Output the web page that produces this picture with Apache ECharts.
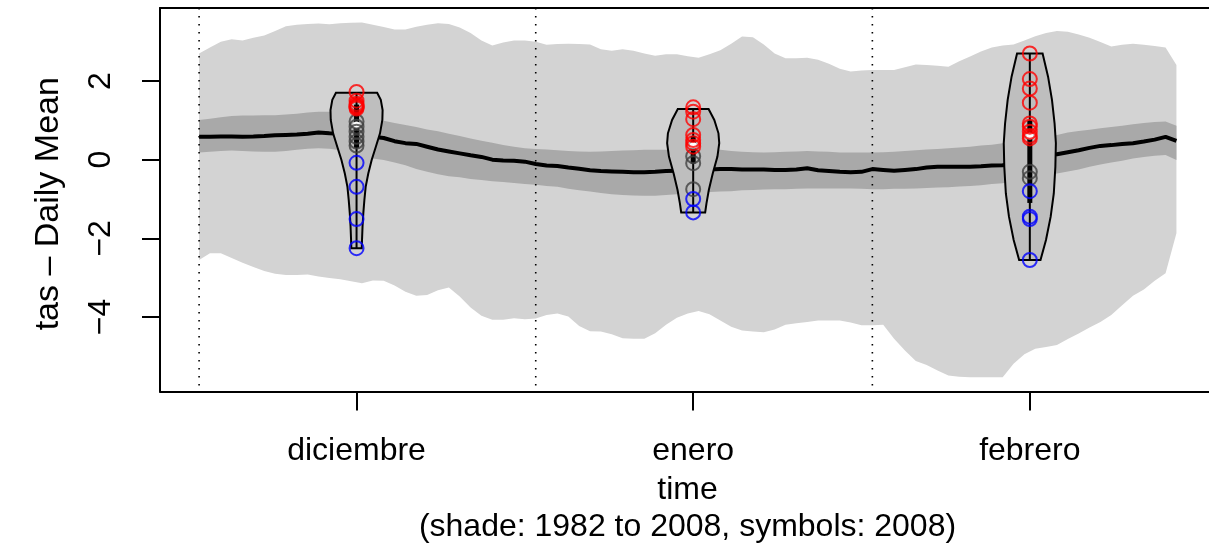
<!DOCTYPE html>
<html><head><meta charset="utf-8">
<script src="https://cdn.jsdelivr.net/npm/echarts@6/dist/echarts.min.js"></script>
<style>html,body{margin:0;padding:0;background:#fff;overflow:hidden}#c{width:1209px;height:546px}</style>
</head><body><div id="c"></div>
<script>
// ---- data ----
const monthNames = ['diciembre', 'enero', 'febrero'];
const monthTicks = [15.5, 46.5, 77.5];
const monthStarts = [1, 32, 63];
const yTicks = [-4, -2, 0, 2];
const days = Array.from({length: 91}, (_, i) => i + 1);

const outerHi = [2.70,2.85,3.00,3.06,3.03,3.10,3.16,3.27,3.39,3.43,
 3.45,3.46,3.44,3.47,3.48,3.49,3.43,3.37,3.31,3.31,
 3.38,3.43,3.47,3.45,3.36,3.22,3.03,2.90,2.98,3.03,
 3.03,3.00,2.92,2.94,2.95,2.94,2.93,2.81,2.77,2.81,
 2.77,2.70,2.64,2.68,2.68,2.63,2.59,2.68,2.78,2.95,
 3.13,3.11,2.93,2.70,2.58,2.58,2.59,2.54,2.44,2.31,
 2.24,2.27,2.28,2.28,2.28,2.35,2.42,2.41,2.39,2.36,
 2.50,2.62,2.75,2.85,2.90,2.93,3.03,3.14,3.22,3.27,
 3.25,3.18,3.10,2.99,2.88,2.92,2.95,2.92,2.89,2.85,
 2.41];
const outerLo = [-2.55,-2.38,-2.38,-2.50,-2.62,-2.73,-2.83,-2.90,-2.93,-2.93,
 -2.92,-2.97,-3.01,-3.04,-3.09,-3.14,-3.07,-3.08,-3.20,-3.36,
 -3.46,-3.44,-3.32,-3.25,-3.48,-3.76,-3.97,-4.07,-4.07,-4.03,
 -4.06,-4.04,-3.95,-3.91,-3.99,-4.23,-4.36,-4.37,-4.44,-4.54,
 -4.55,-4.55,-4.41,-4.20,-4.02,-3.91,-3.85,-3.93,-4.09,-4.25,
 -4.34,-4.37,-4.39,-4.32,-4.20,-4.16,-4.13,-4.09,-4.09,-4.09,
 -4.14,-4.21,-4.21,-4.20,-4.55,-4.85,-5.12,-5.22,-5.36,-5.49,
 -5.52,-5.53,-5.53,-5.53,-5.53,-5.19,-4.95,-4.81,-4.76,-4.71,
 -4.56,-4.42,-4.27,-4.13,-3.95,-3.70,-3.46,-3.30,-3.08,-2.89,
 -1.87];
const innerHi = [1.01,1.04,1.08,1.11,1.12,1.12,1.13,1.13,1.15,1.17,
 1.20,1.22,1.22,1.20,1.15,1.10,1.04,0.99,0.93,0.88,
 0.83,0.77,0.72,0.66,0.60,0.54,0.48,0.43,0.37,0.33,
 0.29,0.27,0.26,0.24,0.22,0.21,0.20,0.21,0.22,0.23,
 0.24,0.25,0.25,0.25,0.25,0.25,0.25,0.25,0.25,0.22,
 0.20,0.19,0.18,0.19,0.20,0.21,0.22,0.21,0.20,0.18,
 0.18,0.18,0.18,0.19,0.20,0.22,0.24,0.26,0.27,0.29,
 0.31,0.33,0.36,0.38,0.42,0.46,0.50,0.54,0.58,0.63,
 0.69,0.73,0.76,0.80,0.83,0.86,0.90,0.93,0.96,0.97,
 0.86];
const innerLo = [0.18,0.20,0.22,0.23,0.22,0.21,0.20,0.20,0.22,0.25,
 0.28,0.29,0.28,0.24,0.18,0.12,0.03,-0.01,-0.07,-0.14,
 -0.24,-0.31,-0.37,-0.42,-0.45,-0.49,-0.52,-0.55,-0.57,-0.59,
 -0.62,-0.64,-0.67,-0.69,-0.74,-0.78,-0.81,-0.85,-0.88,-0.90,
 -0.91,-0.92,-0.92,-0.90,-0.88,-0.86,-0.84,-0.82,-0.81,-0.80,
 -0.78,-0.77,-0.76,-0.75,-0.75,-0.74,-0.73,-0.73,-0.73,-0.73,
 -0.73,-0.74,-0.75,-0.75,-0.74,-0.74,-0.73,-0.72,-0.71,-0.70,
 -0.68,-0.67,-0.65,-0.62,-0.60,-0.55,-0.50,-0.45,-0.40,-0.35,
 -0.30,-0.25,-0.18,-0.12,-0.07,-0.03,0.03,0.07,0.10,0.12,
 -0.01];
const meanLine = [0.585,0.58,0.59,0.59,0.585,0.59,0.60,0.62,0.63,0.64,
 0.66,0.69,0.67,0.66,0.64,0.61,0.58,0.55,0.47,0.42,
 0.40,0.33,0.26,0.21,0.16,0.11,0.07,0.00,-0.02,-0.03,
 -0.05,-0.11,-0.15,-0.16,-0.20,-0.23,-0.27,-0.29,-0.30,-0.31,
 -0.32,-0.32,-0.31,-0.29,-0.28,-0.27,-0.26,-0.25,-0.24,-0.24,
 -0.25,-0.25,-0.25,-0.26,-0.26,-0.25,-0.22,-0.27,-0.29,-0.31,
 -0.32,-0.31,-0.24,-0.26,-0.28,-0.26,-0.24,-0.20,-0.18,-0.18,
 -0.18,-0.18,-0.17,-0.15,-0.14,-0.10,-0.05,0.02,0.08,0.14,
 0.19,0.24,0.30,0.35,0.37,0.40,0.42,0.46,0.51,0.58,
 0.48];

// violin profiles (value, relative density)
const violinLevels = [
  [1.70,1.52,1.26,1.01,0.67,0.33,-0.01,-0.35,-0.69,-1.03,-1.36,-1.70,-2.04,-2.25],
  [1.29,1.01,0.67,0.42,0.08,-0.35,-0.77,-1.11,-1.34],
  [2.70,2.11,1.52,0.92,0.42,-0.18,-0.86,-1.45,-2.04,-2.55]
];
const violinDensity = [
  [0.79,0.93,1.00,0.99,0.90,0.74,0.58,0.45,0.35,0.30,0.26,0.23,0.21,0.20],
  [0.59,0.81,0.97,1.00,0.93,0.75,0.60,0.51,0.46],
  [0.49,0.70,0.85,0.95,1.00,0.98,0.92,0.80,0.62,0.41]
];
const boxQ1 = [0.30, -0.10, -1.10];
const boxQ3 = [1.40, 0.60, 1.00];
const medians = [0.88, 0.36, 0.60];

// 2008 symbols by month
const redVals = [[1.72,1.50,1.42,1.38,1.35,1.33,1.30],[1.33,1.22,1.03,0.63,0.50,0.42,0.33],[2.70,2.05,1.81,1.45,0.92,0.84,0.71,0.60,0.54]];
const grayVals = [[0.97,0.84,0.71,0.58,0.46,0.36],[0.09,-0.09,-0.75],[-0.31,-0.47]];
const blueVals = [[-0.08,-0.69,-1.51,-2.25],[-1.00,-1.34],[-0.80,-1.45,-1.51,-2.55]];

// ---- build ----
const FONT = 'Liberation Sans, Arial, sans-serif';
const FS = 32;
const violinHalfWidth = 2.4; // in days
const xMin = -2.6, xMax = 94.0, yMin = -5.894, yMax = 3.856;
function pts(arr){ const out=[]; arr.forEach((vals,m)=>vals.forEach(v=>out.push([monthTicks[m], v]))); return out; }

function bandSeries(hi, lo, color, z){
  return {
    type:'custom', z:z, silent:true, data:[[0]],
    renderItem:(params, api)=>{
      const p=[];
      for(let i=0;i<days.length;i++) p.push(api.coord([days[i], hi[i]]));
      for(let i=days.length-1;i>=0;i--) p.push(api.coord([days[i], lo[i]]));
      return {type:'polygon', shape:{points:p}, style:{fill:color, stroke:null}};
    }
  };
}

const chart = echarts.init(document.getElementById('c'), null, {renderer:'canvas'});
const plotCenterX = 687.5;
chart.setOption({
  animation:false,
  backgroundColor:'#fff',
  grid:{left:160, right:0, top:8, bottom:154.5, show:false},
  xAxis:[{type:'value', min:xMin, max:xMax, position:'bottom',
    axisLine:{show:true, onZero:false, lineStyle:{color:'#000', width:2}}, splitLine:{show:false},
    axisTick:{show:true, customValues:monthTicks, length:19, lineStyle:{color:'#000', width:2}},
    axisLabel:{customValues:monthTicks, margin:44, color:'#000', fontSize:FS, fontFamily:FONT,
      formatter:v=>monthNames[monthTicks.indexOf(v)]}
  },{type:'value', min:xMin, max:xMax, position:'top',
    axisLine:{show:true, onZero:false, lineStyle:{color:'#000', width:2}}, splitLine:{show:false},
    axisTick:{show:false}, axisLabel:{show:false}
  }],
  yAxis:{type:'value', min:yMin, max:yMax,
    name:'tas – Daily Mean', nameLocation:'middle', nameRotate:90, nameGap:94,
    nameTextStyle:{color:'#000', fontSize:34, fontFamily:FONT, padding:[0,8,0,0]},
    axisLine:{show:true, onZero:false, lineStyle:{color:'#000', width:2}}, splitLine:{show:false},
    axisTick:{show:true, customValues:yTicks, length:18, lineStyle:{color:'#000', width:2}},
    axisLabel:{customValues:yTicks, rotate:90, margin:43, color:'#000', fontSize:FS, fontFamily:FONT,
      formatter:v=> v<0 ? '\u2212'+Math.abs(v) : String(v)}
  },
  graphic:[
    {type:'text', x:plotCenterX, y:490, style:{text:'time', fontSize:FS, fontFamily:FONT, fill:'#000', align:'center', verticalAlign:'middle'}},
    {type:'text', x:plotCenterX, y:527, style:{text:'(shade: 1982 to 2008, symbols: 2008)', fontSize:FS, fontFamily:FONT, fill:'#000', align:'center', verticalAlign:'middle'}}
  ],
  series:[
    bandSeries(outerHi, outerLo, '#d3d3d3', 1),
    bandSeries(innerHi, innerLo, '#a9a9a9', 2),
    {type:'custom', z:3, silent:true, data:monthStarts.map(d=>[d]),
      renderItem:(params, api)=>{
        const cs=params.coordSys; const x=api.coord([api.value(0),0])[0];
        return {type:'line', shape:{x1:x, y1:cs.y, x2:x, y2:cs.y+cs.height},
          style:{stroke:'#000', lineWidth:1.6, lineDash:[1.6,6.4]}};
      }},
    {type:'line', z:4, silent:true, data:days.map((d,i)=>[d, meanLine[i]]), showSymbol:false,
      lineStyle:{color:'#000', width:4}},
    {type:'custom', z:5, silent:true, data:monthTicks.map((d,i)=>[d,i]),
      renderItem:(params, api)=>{
        const m=api.value(1), cx=api.value(0);
        const lv=violinLevels[m], dn=violinDensity[m];
        const p=[];
        for(let i=0;i<lv.length;i++) p.push(api.coord([cx+dn[i]*violinHalfWidth, lv[i]]));
        for(let i=lv.length-1;i>=0;i--) p.push(api.coord([cx-dn[i]*violinHalfWidth, lv[i]]));
        const top=api.coord([cx, lv[0]]), bot=api.coord([cx, lv[lv.length-1]]);
        const q1=api.coord([cx, boxQ1[m]]), q3=api.coord([cx, boxQ3[m]]), md=api.coord([cx, medians[m]]);
        return {type:'group', children:[
          {type:'polygon', shape:{points:p}, style:{fill:'#bebebe', stroke:'#000', lineWidth:2}},
          {type:'line', shape:{x1:top[0], y1:top[1], x2:bot[0], y2:bot[1]}, style:{stroke:'#000', lineWidth:2}},
          {type:'line', shape:{x1:q1[0], y1:q1[1], x2:q3[0], y2:q3[1]}, style:{stroke:'#000', lineWidth:5}},
          {type:'circle', shape:{cx:md[0], cy:md[1], r:3.5}, style:{fill:'#fff'}}
        ]};
      }},
    {type:'scatter', z:6, silent:true, data:pts(grayVals), symbol:'circle', symbolSize:14,
      itemStyle:{color:'transparent', borderColor:'#404040', borderWidth:2}},
    {type:'scatter', z:6, silent:true, data:pts(blueVals), symbol:'circle', symbolSize:14,
      itemStyle:{color:'transparent', borderColor:'#0000ff', borderWidth:2}},
    {type:'scatter', z:6, silent:true, data:pts(redVals), symbol:'circle', symbolSize:14,
      itemStyle:{color:'transparent', borderColor:'#ff0000', borderWidth:2}}
  ]
});
</script>
</body></html>
